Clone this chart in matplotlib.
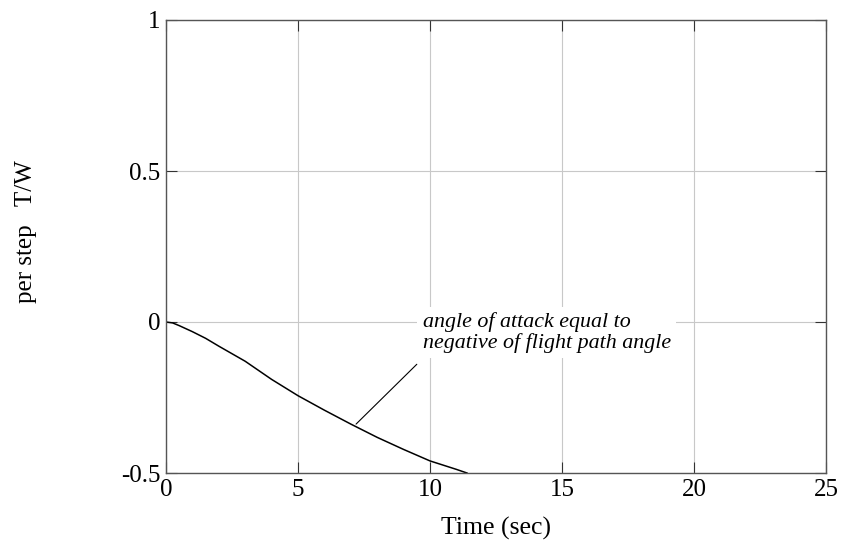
import matplotlib
matplotlib.use('Agg')
import matplotlib.pyplot as plt

plt.rcParams['font.family'] = ['Liberation Serif', 'DejaVu Serif']

# data
time_s = [0, 0.25, 0.5, 1, 1.5, 2, 2.5, 3, 3.5, 4, 5, 6, 7, 8, 9, 10, 11, 11.4]
tw_per_step = [0, -0.003, -0.012, -0.032, -0.054, -0.080, -0.105, -0.130, -0.160,
               -0.190, -0.244, -0.292, -0.338, -0.382, -0.422, -0.460, -0.488, -0.500]

x_ticks = [0, 5, 10, 15, 20, 25]
y_ticks = [-0.5, 0, 0.5, 1]
y_tick_labels = ['-0.5', '0', '0.5', '1']

note = 'angle of attack equal to\nnegative of flight path angle'
note_tip = (7.2, -0.338)
note_tail = (9.5, -0.14)
note_pos = (9.72, -0.035)

fig = plt.figure(figsize=(8.43, 5.52), dpi=100)
ax = fig.add_axes([166/843, 1 - 473/552, 660/843, 453/552])

ax.plot(time_s, tw_per_step, color='black', linewidth=1.1)

ax.set_xlim(0, 25)
ax.set_ylim(-0.5, 1)
ax.set_xticks(x_ticks)
ax.set_yticks(y_ticks)
ax.set_yticklabels(y_tick_labels)
ax.grid(True, color='#c8c8c8', linewidth=0.8)
ax.set_axisbelow(True)

ax.tick_params(direction='in', length=8, width=0.8, color='#333333',
               top=True, right=True, labelsize=18, pad=4)
for s in ax.spines.values():
    s.set_color('#555555')
    s.set_linewidth(1.0)

ax.set_xlabel('Time (sec)', fontsize=18.5, labelpad=12)
fig.text(26/843, 1 - 232/552, 'per step   T/W', rotation=90, fontsize=18,
         ha='center', va='center')

# callout
ax.annotate('', xy=note_tip, xytext=note_tail,
            arrowprops=dict(arrowstyle='-', color='black', linewidth=0.8,
                            shrinkA=0, shrinkB=0))
ax.text(note_pos[0], note_pos[1], note, fontsize=15.8, style='italic',
        ha='left', va='center', linespacing=1.05,
        bbox=dict(facecolor='white', edgecolor='none', pad=4))

fig.savefig('out.png', dpi=100)
